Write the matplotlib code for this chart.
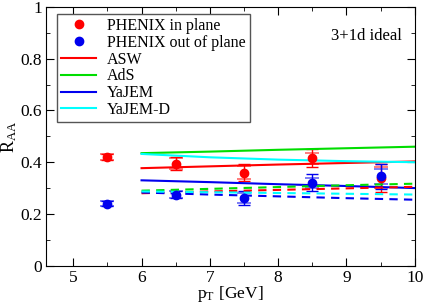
import matplotlib
matplotlib.use("Agg")
import matplotlib.pyplot as plt
from matplotlib.lines import Line2D
from matplotlib.ticker import MultipleLocator

plt.rcParams["font.family"] = ["Liberation Serif", "DejaVu Serif"]
plt.rcParams["mathtext.fontset"] = "stix"

# PHENIX data
pt_data = [5.5, 6.5, 7.5, 8.5, 9.5]
in_plane = [0.42, 0.395, 0.36, 0.415, 0.34]
in_stat = [0.012, 0.025, 0.032, 0.035, 0.055]
in_sys = [0.012, 0.02, 0.025, 0.02, 0.04]
out_plane = [0.24, 0.275, 0.262, 0.32, 0.345]
out_stat = [0.01, 0.015, 0.028, 0.033, 0.05]
out_sys = [0.01, 0.012, 0.02, 0.02, 0.03]

# model curves (pT from 6 to 10)
pt_model = [6, 7, 8, 9, 10]
asw_in = [0.377, 0.384, 0.391, 0.397, 0.403]
ads_in = [0.435, 0.441, 0.448, 0.454, 0.46]
yajem_in = [0.33, 0.323, 0.315, 0.308, 0.30]
yajemd_in = [0.432, 0.419, 0.41, 0.404, 0.40]
asw_out = [0.28, 0.287, 0.293, 0.299, 0.305]
ads_out = [0.29, 0.297, 0.304, 0.311, 0.317]
yajem_out = [0.283, 0.275, 0.268, 0.261, 0.255]
yajemd_out = [0.287, 0.284, 0.281, 0.278, 0.275]

fig = plt.figure(figsize=(4.25, 3.04), dpi=100)
ax = fig.add_axes([0.108, 0.126, 0.868, 0.851])

red, green, blue, cyan = "#ff0000", "#00dd00", "#0000ee", "#00ffff"
dash = (0, (4, 3))

# systematic caps first, then stat bars and points
ax.errorbar(pt_data, in_plane, yerr=in_sys, fmt="none", ecolor=red,
            elinewidth=0, capsize=5, capthick=1.2, alpha=0.6)
ax.errorbar(pt_data, in_plane, yerr=in_stat, fmt="o", color=red, ms=6,
            ecolor=red, elinewidth=1, capsize=4, capthick=1)
ax.errorbar(pt_data, out_plane, yerr=out_sys, fmt="none", ecolor=blue,
            elinewidth=0, capsize=5, capthick=1.2, alpha=0.6)
ax.errorbar(pt_data, out_plane, yerr=out_stat, fmt="o", color=blue, ms=6,
            ecolor=blue, elinewidth=1, capsize=4, capthick=1)

ax.plot(pt_model, asw_in, color=red, lw=1.5)
ax.plot(pt_model, ads_in, color=green, lw=1.5)
ax.plot(pt_model, yajem_in, color=blue, lw=1.5)
ax.plot(pt_model, yajemd_in, color=cyan, lw=1.5)
ax.plot(pt_model, asw_out, color=red, lw=1.5, ls=dash)
ax.plot(pt_model, ads_out, color=green, lw=1.5, ls=dash)
ax.plot(pt_model, yajem_out, color=blue, lw=1.5, ls=dash)
ax.plot(pt_model, yajemd_out, color=cyan, lw=1.5, ls=dash)

ax.set_xlim(4.6, 10)
ax.set_ylim(0, 1)
ax.xaxis.set_major_locator(MultipleLocator(1))
ax.xaxis.set_minor_locator(MultipleLocator(0.5))
ax.yaxis.set_major_locator(MultipleLocator(0.2))
ax.yaxis.set_minor_locator(MultipleLocator(0.1))
ax.yaxis.set_major_formatter(plt.FuncFormatter(lambda v, p: "%g" % v))
ax.tick_params(which="both", direction="in", top=True, right=True,
               labelsize=12.5, pad=3)
ax.tick_params(which="major", length=6)
ax.tick_params(which="minor", length=3)

ax.set_xlabel(r"p$_\mathregular{T}$ [GeV]", fontsize=12.5, labelpad=-1)
ax.set_ylabel(r"R$_\mathregular{AA}$", fontsize=13, labelpad=1)

ax.text(9.29, 0.889, "3+1d ideal", fontsize=12, ha="center", va="center")

handles = [
    Line2D([], [], ls="none", marker="o", ms=6, color=red),
    Line2D([], [], ls="none", marker="o", ms=6, color=blue),
    Line2D([], [], color=red, lw=1.5),
    Line2D([], [], color=green, lw=1.5),
    Line2D([], [], color=blue, lw=1.5),
    Line2D([], [], color=cyan, lw=1.5),
]
labels = ["PHENIX in plane", "PHENIX out of plane", "ASW", "AdS",
          "YaJEM", "YaJEM-D"]
leg = ax.legend(handles, labels, loc="upper left",
                bbox_to_anchor=(0.03, 0.973), fontsize=11.5,
                frameon=True, fancybox=False, edgecolor="#555555",
                handlelength=2.2, handletextpad=0.7, borderpad=0.25,
                labelspacing=0.05, borderaxespad=0, framealpha=1)
leg.get_frame().set_linewidth(1)

fig.savefig("out.png", dpi=100)
